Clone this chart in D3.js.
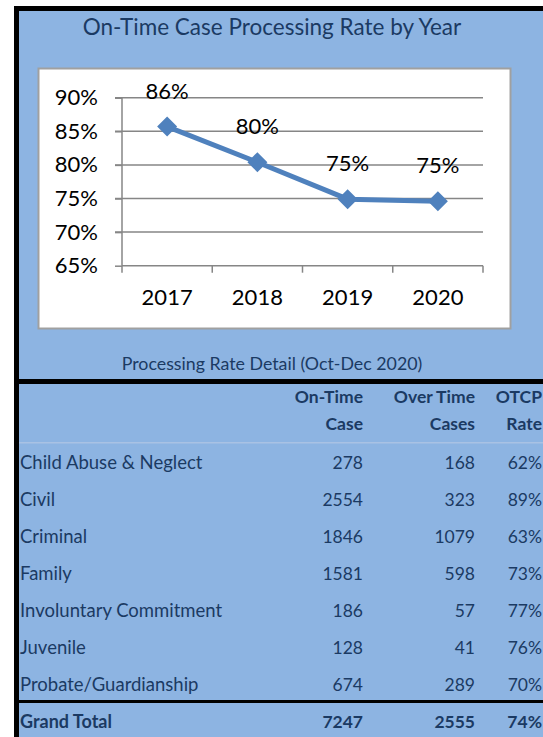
<!DOCTYPE html>
<html>
<head>
<meta charset="utf-8">
<script src="https://cdn.jsdelivr.net/npm/d3@7"></script>
<style>
  html, body { margin: 0; padding: 0; background: #fff; }
  svg { display: block; font-family: Lato, "Open Sans", sans-serif; }
</style>
</head>
<body>
<div id="chart"></div>
<script>
// yearly on-time rate
const years = ["2017", "2018", "2019", "2020"];
const rates = [85.7, 80.4, 74.9, 74.6];
const rateLabels = ["86%", "80%", "75%", "75%"];
const yTicks = [65, 70, 75, 80, 85, 90];

// detail table
const headers1 = ["On-Time", "Over Time", "OTCP"];
const headers2 = ["Case", "Cases", "Rate"];
const categories = ["Child Abuse & Neglect", "Civil", "Criminal", "Family",
  "Involuntary Commitment", "Juvenile", "Probate/Guardianship"];
const onTime = [278, 2554, 1846, 1581, 186, 128, 674];
const overTime = [168, 323, 1079, 598, 57, 41, 289];
const otcpRate = ["62%", "89%", "63%", "73%", "77%", "76%", "70%"];
const grandTotal = ["Grand Total", "7247", "2555", "74%"];

const W = 543, H = 737;
const blue = "#8db4e2", navy = "#1b3a63", lineBlue = "#4f81bd";

const svg = d3.select("#chart").append("svg")
    .attr("width", W)
    .attr("height", H);

// background + black frame
svg.append("rect").attr("x", 19).attr("y", 11).attr("width", W - 19).attr("height", H - 11).attr("fill", blue);
svg.append("rect").attr("x", 14).attr("y", 6).attr("width", W - 14).attr("height", 5).attr("fill", "#000");
svg.append("rect").attr("x", 14).attr("y", 6).attr("width", 5).attr("height", H - 6).attr("fill", "#000");

svg.append("text")
    .attr("x", 272).attr("y", 35)
    .attr("text-anchor", "middle")
    .attr("font-size", 22.5)
    .attr("fill", navy)
    .text("On-Time Case Processing Rate by Year");

// white chart box
svg.append("rect")
    .attr("x", 38.5).attr("y", 68.5).attr("width", 472).attr("height", 260)
    .attr("fill", "#fff").attr("stroke", "#a0a0a0").attr("stroke-width", 2);

const x = d3.scaleBand().domain(years).range([122, 483]);
const y = d3.scaleLinear().domain([65, 90]).range([265.7, 97.7]);

// gridlines
svg.append("g").selectAll("line")
    .data(yTicks.slice(1))
    .enter().append("line")
    .attr("x1", 115).attr("x2", 483)
    .attr("y1", d => y(d)).attr("y2", d => y(d))
    .attr("stroke", "#868686").attr("stroke-width", 1.5);

// y axis
svg.append("g")
    .attr("transform", "translate(122,0)")
    .call(d3.axisLeft(y).tickValues(yTicks).tickSize(7).tickPadding(17).tickFormat(d => d + "%"))
    .call(g => g.selectAll("line").attr("stroke", "#868686").attr("stroke-width", 1.5))
    .call(g => g.select(".domain").attr("stroke", "#868686").attr("stroke-width", 1.5).attr("d", `M-7,${y(90)}H0V${y(65)}`))
    .call(g => g.selectAll("text").attr("font-size", 22).attr("fill", "#000").attr("font-family", "Lato, sans-serif"));

// x axis: labels centred, tick marks on category edges
svg.append("g")
    .attr("transform", `translate(0,${y(65)})`)
    .call(d3.axisBottom(x).tickSize(0).tickPadding(24))
    .call(g => g.select(".domain").attr("stroke", "#868686").attr("stroke-width", 1.5).attr("d", `M${x.range()[0]},0H${x.range()[1]}`))
    .call(g => g.selectAll("text").attr("font-size", 22).attr("fill", "#000").attr("font-family", "Lato, sans-serif"));

svg.append("g").selectAll("line")
    .data(years.map(d => x(d)).concat([x.range()[1]]))
    .enter().append("line")
    .attr("x1", d => d).attr("x2", d => d)
    .attr("y1", y(65)).attr("y2", y(65) + 7)
    .attr("stroke", "#868686").attr("stroke-width", 1.5);

const pts = years.map((d, i) => ({ year: d, v: rates[i], label: rateLabels[i] }));
const cx = d => x(d.year) + x.bandwidth() / 2;

svg.append("path")
    .datum(pts)
    .attr("fill", "none")
    .attr("stroke", lineBlue)
    .attr("stroke-width", 5)
    .attr("stroke-linejoin", "round")
    .attr("d", d3.line().x(cx).y(d => y(d.v)));

svg.append("g").selectAll("path")
    .data(pts)
    .enter().append("path")
    .attr("transform", d => `translate(${cx(d)},${y(d.v)})`)
    .attr("d", "M0,-10L10,0L0,10L-10,0Z")
    .attr("fill", lineBlue);

svg.append("g").selectAll("text")
    .data(pts)
    .enter().append("text")
    .attr("x", cx)
    .attr("y", d => y(d.v) - 28)
    .attr("text-anchor", "middle")
    .attr("font-size", 22)
    .attr("fill", "#000")
    .text(d => d.label);

// ---- table ----
svg.append("text")
    .attr("x", 272).attr("y", 370)
    .attr("text-anchor", "middle")
    .attr("font-size", 17.8)
    .attr("fill", navy)
    .text("Processing Rate Detail (Oct-Dec 2020)");

svg.append("rect").attr("x", 14).attr("y", 379).attr("width", W - 14).attr("height", 5).attr("fill", "#000");
svg.append("rect").attr("x", 19).attr("y", 442).attr("width", W - 19).attr("height", 1.5).attr("fill", "#a9c2e4");
svg.append("rect").attr("x", 19).attr("y", 700).attr("width", W - 19).attr("height", 3).attr("fill", "#000");

const colX = [363, 475, 542];

const head = svg.append("g")
    .attr("font-size", 17.5).attr("font-weight", "bold").attr("fill", navy).attr("text-anchor", "end");
headers1.forEach((h, i) => head.append("text").attr("x", colX[i]).attr("y", 403).text(h));
headers2.forEach((h, i) => head.append("text").attr("x", colX[i]).attr("y", 430).text(h));

const rowY = d3.scaleLinear().domain([0, categories.length]).range([469, 728]);

const rows = svg.append("g").selectAll("g")
    .data(categories)
    .enter().append("g")
    .attr("transform", (d, i) => `translate(0,${rowY(i)})`)
    .attr("font-size", 17.5)
    .attr("fill", navy);

rows.append("text").attr("x", 20).attr("font-size", 18.5).text(d => d);
rows.append("text").attr("x", colX[0]).attr("text-anchor", "end").text((d, i) => onTime[i]);
rows.append("text").attr("x", colX[1]).attr("text-anchor", "end").text((d, i) => overTime[i]);
rows.append("text").attr("x", colX[2]).attr("text-anchor", "end").text((d, i) => otcpRate[i]);

const tot = svg.append("g")
    .attr("transform", `translate(0,${rowY(categories.length)})`)
    .attr("font-size", 17.5).attr("font-weight", "bold").attr("fill", navy);
tot.append("text").attr("x", 20).attr("font-size", 18).text(grandTotal[0]);
grandTotal.slice(1).forEach((t, i) => tot.append("text").attr("x", colX[i]).attr("text-anchor", "end").text(t));
</script>
</body>
</html>
